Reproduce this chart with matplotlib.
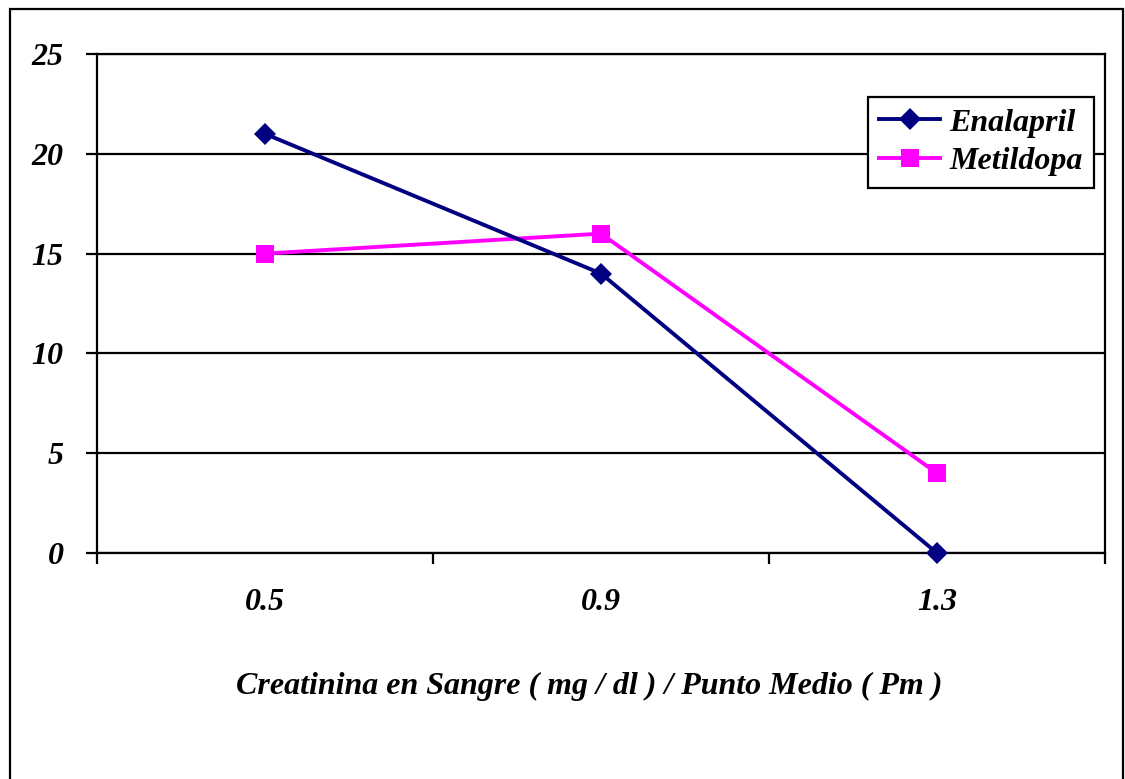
import matplotlib
matplotlib.use("Agg")
import matplotlib.pyplot as plt
from matplotlib.patches import Rectangle

categories = ["0.5", "0.9", "1.3"]
enalapril = [21, 14, 0]
metildopa = [15, 16, 4]
y_ticks = [0, 5, 10, 15, 20, 25]
x_title = "Creatinina en Sangre ( mg / dl ) / Punto Medio ( Pm )"

plt.rcParams["font.family"] = ["Liberation Serif", "DejaVu Serif"]
plt.rcParams["font.weight"] = "bold"
plt.rcParams["font.style"] = "italic"

FS = 23
W, H = 1125, 779
fig = plt.figure(figsize=(W / 100, H / 100), dpi=100)
ax = fig.add_axes([97 / W, 1 - 553 / H, (1105 - 97) / W, (553 - 54) / H])

# outer chart-area frame (bottom edge runs off the page)
fig.patches.append(Rectangle((10 / W, -0.05), (1123 - 10) / W, (1 - 9 / H) + 0.05,
                             transform=fig.transFigure, fill=False,
                             edgecolor="black", linewidth=1.6, zorder=0))

x = list(range(len(categories)))
ax.plot(x, enalapril, color="#000080", linewidth=2.8, marker="D", markersize=11,
        markeredgewidth=0, label="Enalapril", zorder=4, clip_on=False)
ax.plot(x, metildopa, color="#FF00FF", linewidth=2.8, marker="s", markersize=13,
        markeredgewidth=0, label="Metildopa", zorder=3, clip_on=False)

ax.set_xlim(-0.5, len(categories) - 0.5)
ax.set_ylim(0, 25)
ax.set_yticks(y_ticks)
ax.set_yticklabels([str(v) for v in y_ticks], fontsize=FS)
ax.yaxis.grid(True, color="black", linewidth=1.6)
ax.set_axisbelow(True)

# category boundaries get the tick marks; labels sit at the category centres
ax.set_xticks([i - 0.5 for i in range(len(categories) + 1)])
ax.set_xticklabels([])
ax.set_xticks(x, minor=True)
ax.set_xticklabels(categories, minor=True, fontsize=FS)
ax.tick_params(axis="x", which="major", direction="out", length=8, width=1.6)
ax.tick_params(axis="x", which="minor", length=0, pad=25)
ax.tick_params(axis="y", direction="out", length=8, width=1.6, pad=16)

for side in ["left", "bottom", "right", "top"]:
    ax.spines[side].set_linewidth(1.6)

fig.text(589 / W, 1 - 686 / H, x_title, ha="center", va="center", fontsize=FS)

leg = ax.legend(loc="upper left", bbox_to_anchor=((868 - 97) / (1105 - 97), (553 - 97) / (553 - 54)),
                fontsize=FS, frameon=True, fancybox=False, framealpha=1,
                edgecolor="black", borderpad=0.35, labelspacing=0.3,
                handlelength=1.9, handletextpad=0.3, borderaxespad=0)
leg.get_frame().set_linewidth(1.6)

fig.savefig("out.png", dpi=100)
